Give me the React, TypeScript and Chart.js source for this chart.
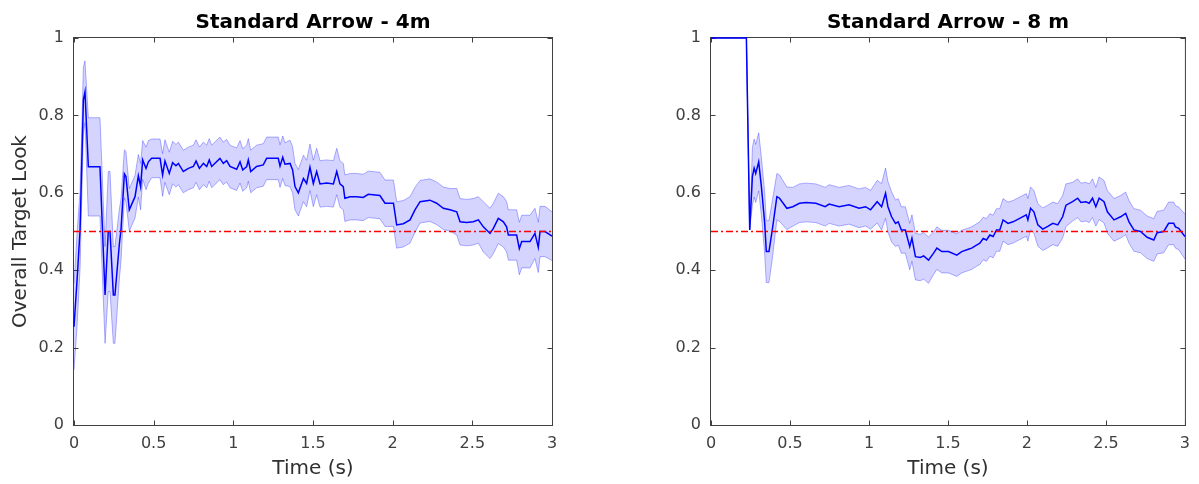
import React, { useEffect, useRef } from "react";
import { Chart, registerables } from "chart.js";

Chart.register(...registerables);

// ---------- data: Standard Arrow - 4m ----------
const time4m = [
  0.0, 0.02, 0.038, 0.059, 0.069, 0.09, 0.163, 0.195, 0.215, 0.226, 0.247, 0.257, 0.285, 0.295,
  0.316, 0.326, 0.347, 0.383, 0.404, 0.418, 0.431, 0.452, 0.467, 0.487, 0.54, 0.556, 0.571,
  0.598, 0.619, 0.64, 0.655, 0.686, 0.718, 0.749, 0.766, 0.787, 0.812, 0.833, 0.849, 0.864,
  0.916, 0.937, 0.958, 0.979, 1.021, 1.042, 1.059, 1.084, 1.094, 1.109, 1.146, 1.188, 1.209,
  1.282, 1.293, 1.31, 1.324, 1.356, 1.372, 1.387, 1.408, 1.44, 1.46, 1.481, 1.502, 1.523, 1.544,
  1.586, 1.628, 1.649, 1.669, 1.69, 1.7, 1.733, 1.774, 1.815, 1.847, 1.92, 1.952, 2.005, 2.025,
  2.067, 2.109, 2.14, 2.172, 2.234, 2.276, 2.318, 2.36, 2.402, 2.423, 2.464, 2.506, 2.538, 2.569,
  2.611, 2.632, 2.663, 2.695, 2.715, 2.726, 2.778, 2.795, 2.81, 2.862, 2.893, 2.914, 2.925,
  2.956, 3.0,
];
const mean4m = [
  0.254, 0.38, 0.504, 0.84, 0.861, 0.667, 0.667, 0.336, 0.5, 0.5, 0.336, 0.336, 0.469, 0.504,
  0.649, 0.642, 0.556, 0.59, 0.644, 0.616, 0.685, 0.663, 0.68, 0.689, 0.689, 0.646, 0.682,
  0.65, 0.678, 0.67, 0.676, 0.655, 0.663, 0.668, 0.682, 0.663, 0.676, 0.668, 0.685, 0.668,
  0.689, 0.676, 0.683, 0.668, 0.661, 0.68, 0.659, 0.668, 0.685, 0.655, 0.668, 0.672, 0.689,
  0.689, 0.669, 0.692, 0.674, 0.676, 0.659, 0.616, 0.6, 0.637, 0.624, 0.666, 0.624, 0.655, 0.623,
  0.625, 0.623, 0.655, 0.623, 0.616, 0.586, 0.59, 0.59, 0.588, 0.596, 0.593, 0.573, 0.573, 0.517,
  0.52, 0.53, 0.556, 0.577, 0.581, 0.573, 0.56, 0.556, 0.551, 0.525, 0.523, 0.525, 0.53, 0.512,
  0.495, 0.508, 0.534, 0.525, 0.512, 0.491, 0.491, 0.456, 0.474, 0.474, 0.495, 0.459, 0.5,
  0.5, 0.488,
];
const err4m = [
  0.112, 0.12, 0.1, 0.085, 0.08, 0.127, 0.127, 0.125, 0.155, 0.155, 0.125, 0.125, 0.09, 0.08,
  0.062, 0.065, 0.055, 0.055, 0.055, 0.06, 0.05, 0.055, 0.055, 0.05, 0.05, 0.055, 0.055,
  0.055, 0.055, 0.055, 0.055, 0.055, 0.055, 0.055, 0.055, 0.055, 0.055, 0.055, 0.055, 0.055,
  0.055, 0.055, 0.055, 0.055, 0.055, 0.055, 0.055, 0.055, 0.055, 0.055, 0.055, 0.055, 0.055,
  0.055, 0.055, 0.055, 0.055, 0.06, 0.06, 0.06, 0.06, 0.06, 0.06, 0.06, 0.06, 0.06, 0.06,
  0.06, 0.06, 0.06, 0.06, 0.06, 0.06, 0.06, 0.06, 0.06, 0.06, 0.06, 0.06, 0.06, 0.06,
  0.06, 0.06, 0.058, 0.055, 0.055, 0.055, 0.055, 0.055, 0.06, 0.06, 0.06, 0.06, 0.06, 0.065,
  0.065, 0.065, 0.065, 0.065, 0.065, 0.065, 0.065, 0.068, 0.068, 0.068, 0.065, 0.065, 0.065,
  0.065, 0.063,
];

// ---------- data: Standard Arrow - 8 m ----------
const time8m = [
  0.0, 0.224, 0.245, 0.262, 0.273, 0.283, 0.302, 0.319, 0.34, 0.35, 0.367, 0.388, 0.417, 0.434,
  0.48, 0.518, 0.56, 0.602, 0.664, 0.723, 0.748, 0.811, 0.874, 0.937, 0.979, 1.01, 1.052, 1.08,
  1.105, 1.12, 1.143, 1.168, 1.185, 1.205, 1.23, 1.258, 1.272, 1.294, 1.325, 1.346, 1.377, 1.409,
  1.43, 1.461, 1.503, 1.556, 1.587, 1.629, 1.65, 1.681, 1.702, 1.723, 1.744, 1.765, 1.786, 1.807,
  1.828, 1.849, 1.88, 1.912, 1.954, 1.996, 2.006, 2.023, 2.044, 2.069, 2.1, 2.132, 2.164, 2.195,
  2.226, 2.247, 2.289, 2.321, 2.342, 2.373, 2.394, 2.415, 2.436, 2.457, 2.488, 2.509, 2.551,
  2.593, 2.625, 2.646, 2.677, 2.719, 2.761, 2.803, 2.824, 2.866, 2.897, 2.929, 2.94, 2.961, 3.0,
];
const mean8m = [
  1.0, 1.0, 0.504, 0.642, 0.664, 0.65, 0.68, 0.616, 0.521, 0.448, 0.448, 0.504, 0.59, 0.586,
  0.56, 0.564, 0.573, 0.575, 0.573, 0.564, 0.571, 0.564, 0.569, 0.56, 0.564, 0.556, 0.577, 0.564,
  0.599, 0.564, 0.538, 0.521, 0.525, 0.504, 0.504, 0.461, 0.483, 0.435, 0.433, 0.437, 0.426, 0.444,
  0.457, 0.448, 0.448, 0.439, 0.448, 0.454, 0.457, 0.465, 0.47, 0.482, 0.478, 0.491, 0.487, 0.504,
  0.504, 0.53, 0.521, 0.525, 0.534, 0.543, 0.53, 0.56, 0.551, 0.517, 0.506, 0.513, 0.521, 0.517,
  0.538, 0.568, 0.577, 0.586, 0.575, 0.577, 0.573, 0.586, 0.564, 0.586, 0.577, 0.551, 0.53,
  0.538, 0.547, 0.525, 0.504, 0.5, 0.485, 0.478, 0.497, 0.5, 0.521, 0.521, 0.512, 0.508, 0.487,
];
const err8m = [
  0, 0, 0, 0.075, 0.075, 0.075, 0.075, 0.075, 0.08, 0.08, 0.08, 0.075, 0.06, 0.06,
  0.055, 0.05, 0.05, 0.05, 0.05, 0.05, 0.05, 0.05, 0.05, 0.05, 0.05, 0.05, 0.055, 0.06,
  0.065, 0.065, 0.065, 0.06, 0.06, 0.06, 0.06, 0.06, 0.06, 0.06, 0.06, 0.06, 0.06, 0.055,
  0.055, 0.055, 0.055, 0.055, 0.055, 0.055, 0.055, 0.055, 0.055, 0.055, 0.055, 0.055, 0.055, 0.055,
  0.055, 0.055, 0.055, 0.055, 0.055, 0.055, 0.055, 0.055, 0.055, 0.055, 0.055, 0.055, 0.055, 0.055,
  0.055, 0.055, 0.05, 0.05, 0.05, 0.05, 0.05, 0.05, 0.05, 0.055, 0.055, 0.055, 0.055,
  0.055, 0.055, 0.055, 0.055, 0.055, 0.055, 0.055, 0.055, 0.055, 0.055, 0.055, 0.055, 0.055, 0.058,
];

const chanceLevel = [0.5, 0.5];
const chanceTimes = [0, 3];
const xLimits = [0, 3];
const yLimits = [0, 1];
const xTickStep = 0.5;
const yTickStep = 0.2;

const FONT = "'DejaVu Sans', 'Liberation Sans', sans-serif";

const toPoints = (t: number[], v: number[]) => t.map((x, i) => ({ x, y: v[i] }));
const fmtTick = (v: any) => String(Number(Number(v).toFixed(3)));

const matlabBox = {
  id: "matlabBox",
  beforeDatasetsDraw(chart: any) {
    const { ctx, chartArea: a, scales } = chart;
    ctx.save();
    ctx.strokeStyle = "#404040";
    ctx.lineWidth = 1;
    const L = a.left - 0.5, R = a.right + 0.5, T = a.top - 0.5, B = a.bottom + 0.5;
    ctx.strokeRect(L, T, R - L, B - T);
    const len = 5;
    ctx.beginPath();
    scales.x.ticks.forEach((tk: any) => {
      const px = Math.round(scales.x.getPixelForValue(tk.value)) + 0.5;
      ctx.moveTo(px, B); ctx.lineTo(px, B - len);
      ctx.moveTo(px, T); ctx.lineTo(px, T + len);
    });
    scales.y.ticks.forEach((tk: any) => {
      const py = Math.round(scales.y.getPixelForValue(tk.value)) + 0.5;
      ctx.moveTo(L, py); ctx.lineTo(L + len, py);
      ctx.moveTo(R, py); ctx.lineTo(R - len, py);
    });
    ctx.stroke();
    ctx.restore();
  },
  afterDraw(chart: any) {
    const opts = chart.options.plugins.matlabBox || {};
    if (!opts.title) return;
    const { ctx, chartArea: a } = chart;
    ctx.save();
    ctx.font = `bold 20px ${FONT}`;
    ctx.fillStyle = "#000000";
    ctx.textAlign = "center";
    ctx.textBaseline = "alphabetic";
    ctx.fillText(opts.title, (a.left + a.right) / 2, 27.5);
    ctx.restore();
  },
};

function buildConfig(
  title: string,
  t: number[],
  mean: number[],
  err: number[],
  yTitle: string | null,
  yWidth: number,
  rightPad: number
): any {
  const upper = mean.map((m, i) => m + err[i]);
  const lower = mean.map((m, i) => m - err[i]);
  return {
    type: "line",
    data: {
      datasets: [
        {
          data: toPoints(t, upper),
          borderColor: "rgba(0,0,255,0.3)",
          borderWidth: 1,
          backgroundColor: "rgba(0,0,255,0.17)",
          fill: "+1",
          pointRadius: 0,
          tension: 0,
          order: 3,
        },
        {
          data: toPoints(t, lower),
          borderColor: "rgba(0,0,255,0.3)",
          borderWidth: 1,
          fill: false,
          pointRadius: 0,
          tension: 0,
          order: 2,
        },
        {
          data: toPoints(t, mean),
          borderColor: "#0000ff",
          borderWidth: 1.5,
          fill: false,
          pointRadius: 0,
          tension: 0,
          order: 1,
          clip: 2,
        },
        {
          data: toPoints(chanceTimes, chanceLevel),
          borderColor: "rgb(255,0,0)",
          backgroundColor: "rgb(255,0,0)",
          borderWidth: 1.5,
          borderDash: [7, 3, 2, 3],
          fill: false,
          pointRadius: 0,
          tension: 0,
          order: 0,
        },
      ],
    },
    options: {
      animation: false,
      responsive: false,
      maintainAspectRatio: false,
      devicePixelRatio: 1,
      layout: { padding: { top: 38, right: rightPad, left: 0, bottom: 0 } },
      plugins: {
        legend: { display: false },
        tooltip: { enabled: false },
        title: { display: false },
        matlabBox: { title },
      },
      scales: {
        x: {
          type: "linear",
          min: xLimits[0],
          max: xLimits[1],
          grid: { display: false, drawTicks: false },
          border: { display: false },
          ticks: {
            stepSize: xTickStep,
            autoSkip: false,
            maxRotation: 0,
            padding: 9,
            color: "#404040",
            font: { family: FONT, size: 16 },
            callback: fmtTick,
          },
          title: {
            display: true,
            text: "Time (s)",
            color: "#303030",
            font: { family: FONT, size: 20 },
            padding: { top: 0, bottom: 3 },
          },
          afterFit: (s: any) => {
            s.height = 59;
          },
        },
        y: {
          type: "linear",
          min: yLimits[0],
          max: yLimits[1],
          grid: { display: false, drawTicks: false },
          border: { display: false },
          ticks: {
            stepSize: yTickStep,
            padding: 10,
            color: "#404040",
            font: { family: FONT, size: 16 },
            callback: fmtTick,
          },
          title: {
            display: !!yTitle,
            text: yTitle || "",
            color: "#303030",
            font: { family: FONT, size: 20 },
            padding: { top: 9, bottom: 0 },
          },
          afterFit: (s: any) => {
            s.width = yWidth;
          },
        },
      },
    },
    plugins: [matlabBox],
  };
}

function Panel(props: { left: number; width: number; cfg: () => any }) {
  const ref = useRef<HTMLCanvasElement | null>(null);
  useEffect(() => {
    if (!ref.current) return;
    const chart = new Chart(ref.current, props.cfg());
    return () => chart.destroy();
  }, []);
  return (
    <canvas
      ref={ref}
      width={props.width}
      height={484}
      style={{ position: "absolute", left: props.left, top: 0, width: props.width, height: 484 }}
    />
  );
}

export default function App() {
  return (
    <div
      style={{
        position: "fixed",
        left: 0,
        top: 0,
        width: 1199,
        height: 484,
        background: "#ffffff",
        overflow: "hidden",
      }}
    >
      <Panel
        left={0}
        width={600}
        cfg={() => buildConfig("Standard Arrow - 4m", time4m, mean4m, err4m, "Overall Target Look", 74, 48)}
      />
      <Panel
        left={600}
        width={599}
        cfg={() => buildConfig("Standard Arrow - 8 m", time8m, mean8m, err8m, null, 111, 11)}
      />
    </div>
  );
}
